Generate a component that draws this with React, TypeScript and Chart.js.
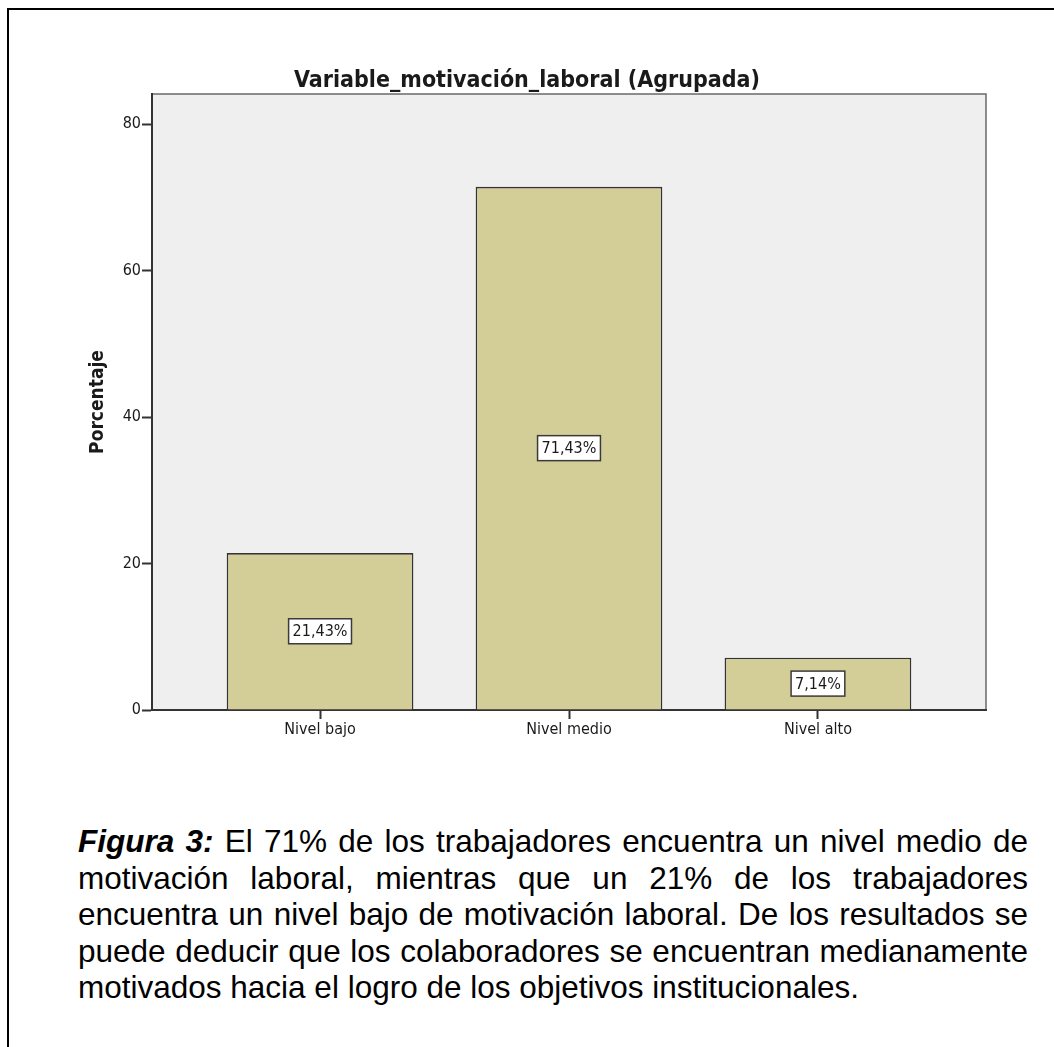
import React, { useEffect, useRef } from "react";
import { Chart, registerables } from "chart.js";

Chart.register(...registerables);

const chartTitle = "Variable_motivación_laboral (Agrupada)";
const yAxisTitle = "Porcentaje";
const categories = ["Nivel bajo", "Nivel medio", "Nivel alto"];
const percentages = [21.43, 71.43, 7.14];
const yTicks = [0, 20, 40, 60, 80];
const yMax = 84.1;
const xRange = [-0.675, 2.675];

const captionLead = "Figura 3:";
const captionLines = [
  " El 71% de los trabajadores encuentra un nivel medio de",
  "motivación laboral, mientras que un 21% de los trabajadores",
  "encuentra un nivel bajo de motivación laboral. De los resultados se",
  "puede deducir que los colaboradores se encuentran medianamente",
  "motivados hacia el logro de los objetivos institucionales.",
];

const FONT = "'DejaVu Sans Condensed', 'DejaVu Sans', sans-serif";
const INK = "#1a1a1a";

const plotFrame = {
  id: "plotFrame",
  beforeDraw(chart: any) {
    const { ctx, chartArea: a } = chart;
    ctx.save();
    ctx.fillStyle = "#efefef";
    ctx.fillRect(a.left, a.top, a.right - a.left, a.bottom - a.top);
    ctx.strokeStyle = "#6a6a6a";
    ctx.lineWidth = 1.5;
    ctx.strokeRect(a.left, a.top, a.right - a.left, a.bottom - a.top);
    ctx.restore();
  },
};

const barLabels = {
  id: "barLabels",
  afterDatasetsDraw(chart: any) {
    const { ctx } = chart;
    const meta = chart.getDatasetMeta(0);
    ctx.save();
    ctx.font = `16px ${FONT}`;
    meta.data.forEach((bar: any, i: number) => {
      const { x, y, base } = bar.getProps(["x", "y", "base"], true);
      const cy = (y + base) / 2;
      const text = percentages[i].toFixed(2).replace(".", ",") + "%";
      const w = ctx.measureText(text).width + 8;
      const h = 25;
      ctx.fillStyle = "#ffffff";
      ctx.fillRect(x - w / 2, cy - h / 2, w, h);
      ctx.strokeStyle = "#3a3a3a";
      ctx.lineWidth = 1.5;
      ctx.strokeRect(x - w / 2, cy - h / 2, w, h);
      ctx.fillStyle = INK;
      ctx.textAlign = "center";
      ctx.textBaseline = "middle";
      ctx.fillText(text, x, cy + 1);
    });
    ctx.restore();
  },
};

function BarChart() {
  const ref = useRef<HTMLCanvasElement | null>(null);
  useEffect(() => {
    if (!ref.current) return;
    const chart = new Chart(ref.current, {
      type: "bar",
      data: {
        datasets: [
          {
            data: percentages.map((v, i) => ({ x: i, y: v })),
            backgroundColor: "#d3ce97",
            borderColor: "#333333",
            borderWidth: 1.6,
            categoryPercentage: 1,
            barPercentage: 0.75,
          },
        ],
      },
      options: {
        animation: false,
        responsive: false,
        devicePixelRatio: 1,
        layout: { padding: { left: 68, right: 68, top: 62, bottom: 40 } },
        plugins: {
          legend: { display: false },
          tooltip: { enabled: false },
          title: {
            display: true,
            text: chartTitle,
            color: INK,
            font: { size: 23, weight: "bold", family: FONT, lineHeight: 1 },
            padding: { top: 8, bottom: 1 },
          },
        },
        scales: {
          x: {
            type: "linear",
            offset: false,
            min: xRange[0],
            max: xRange[1],
            afterBuildTicks: (s: any) => {
              s.ticks = categories.map((_, i) => ({ value: i }));
            },
            afterFit: (s: any) => {
              s.height = 40;
            },
            ticks: {
              callback: (v: any) => categories[v] ?? "",
              font: { size: 16, family: FONT },
              color: INK,
              padding: 1,
              autoSkip: false,
              maxRotation: 0,
            },
            grid: {
              offset: false,
              drawOnChartArea: false,
              drawTicks: true,
              tickLength: 9,
              tickColor: "#333",
              tickWidth: 2,
            },
            border: { display: true, color: "#333", width: 2 },
          },
          y: {
            min: 0,
            max: yMax,
            afterBuildTicks: (s: any) => {
              s.ticks = yTicks.map((v) => ({ value: v }));
            },
            afterFit: (s: any) => {
              s.width = 84;
            },
            ticks: {
              font: { size: 16, family: FONT },
              color: INK,
              padding: 1,
            },
            grid: {
              drawOnChartArea: false,
              drawTicks: true,
              tickLength: 10,
              tickColor: "#333",
              tickWidth: 2,
            },
            border: { display: true, color: "#333", width: 2 },
            title: {
              display: true,
              text: yAxisTitle,
              color: INK,
              font: { size: 19, weight: "bold", family: FONT },
              padding: { top: 19, bottom: 0 },
            },
          },
        },
      },
      plugins: [plotFrame, barLabels],
    } as any);
    return () => chart.destroy();
  }, []);
  return (
    <canvas
      ref={ref}
      width={1054}
      height={790}
      style={{ position: "absolute", left: 0, top: 0, width: 1054, height: 790 }}
    />
  );
}

export default function App() {
  return (
    <div
      style={{
        position: "absolute",
        left: 0,
        top: 0,
        width: 1054,
        height: 1047,
        overflow: "hidden",
        background: "#fff",
      }}
    >
      <div
        style={{
          position: "absolute",
          left: 7,
          top: 8,
          width: 1070,
          height: 1060,
          border: "2px solid #000",
          boxSizing: "border-box",
        }}
      />
      <BarChart />
      <div
        style={{
          position: "absolute",
          left: 78,
          top: 823,
          width: 950,
          fontFamily: "'Liberation Sans', Arial, sans-serif",
          fontSize: 31.5,
          lineHeight: "36.5px",
          color: "#000",
        }}
      >
        {captionLines.map((line, i) => (
          <div
            key={i}
            style={{
              textAlign: "justify",
              textAlignLast: i === captionLines.length - 1 ? "left" : "justify",
              whiteSpace: "nowrap",
            } as any}
          >
            {i === 0 ? (
              <>
                <span style={{ fontWeight: "bold", fontStyle: "italic" }}>{captionLead}</span>
                {line}
              </>
            ) : (
              line
            )}
          </div>
        ))}
      </div>
    </div>
  );
}
